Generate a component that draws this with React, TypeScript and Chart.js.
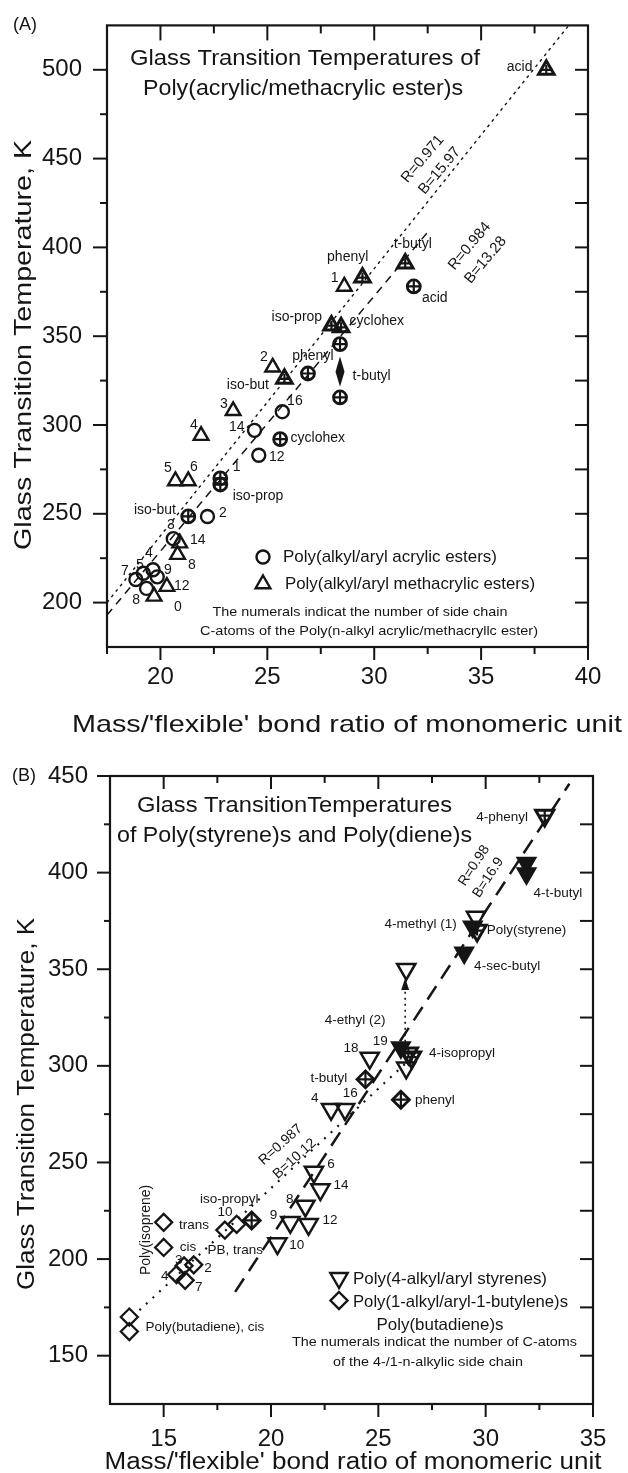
import React, { useEffect, useRef } from 'react';
import { Chart, registerables } from 'chart.js';

Chart.register(...registerables);

const FONT = '"Liberation Sans", Arial, Helvetica, sans-serif';
const INK = '#151515';

// ---------------- Panel A : acrylic / methacrylic esters ----------------
const aXTicks = [20, 25, 30, 35, 40];
const aXMinor = [17.5, 22.5, 27.5, 32.5, 37.5];
const aYTicks = [200, 250, 300, 350, 400, 450, 500];
const aYMinor = [225, 275, 325, 375, 425, 475];

// open circles: n-alkyl acrylates (16,14,12,2,3,4,5,9,7,8)
const aAcrylX = [25.7, 24.4, 24.6, 22.2, 20.6, 19.65, 19.2, 19.85, 18.85, 19.35];
const aAcrylY = [307.5, 297, 283, 248.5, 236, 218.5, 216.5, 214.5, 213, 208];
// crossed circles: acid, phenyl, cyclohex, t-butyl (2), 1, iso-prop, iso-but
const aAcrylBrX = [31.85, 26.9, 25.6, 28.4, 28.4, 22.8, 22.8, 21.3];
const aAcrylBrY = [378, 329, 292, 345.5, 315.5, 270, 266.5, 248.5];
// open triangles: n-alkyl methacrylates (1,2,3,4,5,6,14,8,12,0)
const aMethX = [28.6, 25.25, 23.4, 21.9, 20.7, 21.3, 20.9, 20.8, 20.3, 19.7];
const aMethY = [378, 332.5, 308, 294, 268.5, 268.5, 233.5, 227, 209, 203.5];
// crossed triangles: acid, t-butyl, phenyl, iso-prop, cyclohex, iso-but
const aMethBrX = [38.05, 31.45, 29.45, 28.0, 28.45, 25.8];
const aMethBrY = [500, 391, 383, 356, 355, 326];
// regression lines
const aFit1X = [17.5, 39.1];
const aFit1Y = [200, 525];
const aFit2X = [17.5, 32.6];
const aFit2Y = [193, 410];
// t-butyl shift marker
const aShiftX = [28.4];
const aShiftY = [321.5, 338.5];

const aLabels: [string, number, number][] = [
  ['acid', 36.8, 501.7], ['phenyl', 28.76, 394.6], ['t-butyl', 31.8, 401.8], ['1', 28.15, 382.9],
  ['acid', 32.83, 371.7], ['iso-prop', 26.38, 360.6], ['cyclohex', 30.12, 358.3], ['phenyl', 27.13, 338.8],
  ['2', 24.84, 338.3], ['t-butyl', 29.88, 327.7], ['iso-but', 24.09, 322.6], ['3', 22.97, 311.5],
  ['16', 26.29, 313.7], ['4', 21.57, 299.8], ['14', 23.57, 298.7], ['cyclohex', 27.36, 292.5],
  ['12', 25.44, 281.9], ['5', 20.35, 275.8], ['6', 21.57, 276.4], ['1', 23.57, 276.4],
  ['iso-prop', 24.56, 260.2], ['iso-but', 19.74, 251.8], ['2', 22.92, 250.1], ['3', 20.49, 243.4],
  ['14', 21.75, 235.1], ['4', 19.46, 227.8], ['8', 21.47, 221.1], ['7', 18.34, 217.8],
  ['5', 19.04, 221.1], ['9', 20.35, 218.3], ['12', 21.0, 209.4], ['8', 18.86, 201.6], ['0', 20.82, 197.7],
];
const aRotLabels: [string, number, number, number][] = [
  ['R=0.971', 32.27, 449.8, -50], ['B=15.97', 33.06, 443.1, -50],
  ['R=0.984', 34.46, 400.7, -50], ['B=13.28', 35.21, 392.9, -50],
];

// ---------------- Panel B : styrenes / butylenes / dienes ----------------
const bXTicks = [15, 20, 25, 30, 35];
const bXMinor = [17.5, 22.5, 27.5, 32.5];
const bYTicks = [150, 200, 250, 300, 350, 400, 450];
const bYMinor = [175, 225, 275, 325, 375, 425];

const bStyX = [29.55, 26.3, 26.3, 24.6, 22.8, 23.45, 22.0, 22.3, 21.6, 20.9, 21.75, 20.3];
const bStyY = [377, 350, 299, 304, 277.5, 277.5, 245, 236, 227.5, 219, 218, 208];
const bStyFillX = [31.9, 31.9, 29.0, 29.4, 26.05];
const bStyFillY = [405, 399.5, 358.5, 372, 309.5];
const bStyCrX = [32.75, 26.4, 26.55, 29.6];
const bStyCrY = [429.5, 306.5, 304.5, 370];
const bButX = [15.0, 15.0, 15.95, 16.4, 15.6, 16.0, 17.85, 18.4, 13.4, 13.4];
const bButY = [219, 206, 196.5, 197, 192, 189, 215, 218, 170, 162.5];
const bButCrX = [19.1, 24.4, 26.05];
const bButCrY = [220, 293, 282.5];
const bFit1X = [18.33, 33.9];
const bFit1Y = [183, 446];
const bFit2X = [13.87, 26.97];
const bFit2Y = [173.5, 308.5];
const bArrowX = [26.25];
const bArrowY = [312.5, 345.5];

const bLabels: [string, number, number][] = [
  ['4-phenyl', 30.77, 428.6], ['4-t-butyl', 33.36, 389.1], ['4-methyl (1)', 26.97, 373.5],
  ['Poly(styrene)', 31.9, 369.9], ['4-sec-butyl', 31.0, 351.7], ['4-ethyl (2)', 23.92, 323.6],
  ['18', 23.73, 309.1], ['19', 25.09, 312.7], ['4-isopropyl', 28.9, 306.5], ['t-butyl', 22.7, 293.5],
  ['phenyl', 27.63, 282.1], ['4', 22.04, 283.1], ['16', 23.69, 285.7], ['6', 22.79, 248.8],
  ['14', 23.26, 238.4], ['iso-propyl', 18.05, 231.2], ['8', 20.87, 231.2], ['10', 17.86, 224.4],
  ['9', 20.12, 222.9], ['12', 22.75, 220.3], ['10', 21.2, 207.3], ['trans', 16.41, 217.7],
  ['cis', 16.13, 206.2], ['PB, trans', 18.33, 204.7], ['3', 15.7, 199.5], ['2', 17.07, 195.3],
  ['4', 15.05, 191.2], ['7', 16.64, 185.5], ['Poly(butadiene), cis', 16.92, 164.7],
];
const bRotLabels: [string, number, number, number][] = [
  ['Poly(isoprene)', 14.2, 215.1, -90], ['R=0.987', 20.45, 259.2, -42], ['B=10.12', 21.1, 251.9, -42],
  ['R=0.98', 29.46, 403.6, -57], ['B=16.9', 30.12, 397.4, -57],
];

// ---------------- helpers ----------------
type Opt = { align?: CanvasTextAlign; base?: CanvasTextBaseline; rot?: number; w?: number };
function txt(ctx: CanvasRenderingContext2D, s: string, x: number, y: number, size: number, o: Opt = {}) {
  ctx.save();
  ctx.font = `${size}px ${FONT}`;
  ctx.fillStyle = INK;
  ctx.textAlign = o.align ?? 'center';
  ctx.textBaseline = o.base ?? 'middle';
  ctx.translate(x, y);
  if (o.rot) ctx.rotate((o.rot * Math.PI) / 180);
  if (o.w) {
    const m = ctx.measureText(s).width;
    if (m > 0) ctx.scale(o.w / m, 1);
  }
  ctx.fillText(s, 0, 0);
  ctx.restore();
}

function triPath(ctx: CanvasRenderingContext2D, x: number, y: number, r: number, rotDeg: number) {
  let rad = (rotDeg * Math.PI) / 180;
  ctx.beginPath();
  for (let i = 0; i < 3; i++) {
    const px = x + Math.sin(rad) * r;
    const py = y - Math.cos(rad) * r;
    if (i === 0) ctx.moveTo(px, py);
    else ctx.lineTo(px, py);
    rad += (2 * Math.PI) / 3;
  }
  ctx.closePath();
}

function pts(xs: number[], ys: number[]) {
  return xs.map((x, i) => ({ x, y: ys[i] }));
}

function marks(xs: number[], ys: number[], style: any) {
  return {
    data: pts(xs, ys),
    showLine: false,
    borderColor: INK,
    pointBorderColor: INK,
    backgroundColor: 'rgba(0,0,0,0)',
    pointBackgroundColor: 'rgba(0,0,0,0)',
    ...style,
  };
}

function fitLine(xs: number[], ys: number[], dash: number[], width: number) {
  return {
    data: pts(xs, ys),
    showLine: true,
    pointRadius: 0,
    borderColor: INK,
    borderWidth: width,
    borderDash: dash,
    fill: false,
    tension: 0,
  };
}

interface Panel {
  name: string;
  height: number;
  area: { left: number; top: number; right: number; bottom: number };
  xRange: [number, number];
  yRange: [number, number];
  xTicks: number[];
  xMinor: number[];
  yTicks: number[];
  yMinor: number[];
  tl: { left: [number, number]; bottom: [number, number]; top: [number, number]; right: [number, number] };
  xPad: number;
  yPad: number;
  datasets: any[];
  labels: [string, number, number][];
  labelSize: number;
  rot: [string, number, number, number][];
  rotSize: number;
  draw: (ctx: CanvasRenderingContext2D, xs: any, ys: any) => void;
}

const panelA: Panel = {
  name: 'A',
  height: 745,
  area: { left: 107, top: 17, right: 588, bottom: 647 },
  xRange: [17.5, 40],
  yRange: [175, 525],
  xTicks: aXTicks,
  xMinor: aXMinor,
  yTicks: aYTicks,
  yMinor: aYMinor,
  tl: { left: [14, 7], bottom: [13, 7], top: [15, 8], right: [13, 13] },
  xPad: 3,
  yPad: 11,
  datasets: [
    marks(aAcrylBrX, aAcrylBrY, { pointStyle: 'cross', pointRadius: 6.5, pointBorderWidth: 2.2 }),
    marks(aAcrylBrX, aAcrylBrY, { pointStyle: 'circle', pointRadius: 6.5, pointBorderWidth: 2.8 }),
    marks(aAcrylX, aAcrylY, { pointStyle: 'circle', pointRadius: 6.5, pointBorderWidth: 2.4 }),
    marks(aMethBrX, aMethBrY, { pointStyle: 'cross', pointRadius: 5, pointBorderWidth: 2.2 }),
    marks(aMethBrX, aMethBrY, { pointStyle: 'triangle', pointRadius: 9, pointBorderWidth: 3 }),
    marks(aMethX, aMethY, { pointStyle: 'triangle', pointRadius: 8.5, pointBorderWidth: 2.4 }),
    fitLine(aFit1X, aFit1Y, [3, 4], 1.4),
    fitLine(aFit2X, aFit2Y, [8, 6], 1.5),
  ],
  labels: aLabels,
  labelSize: 14,
  rot: aRotLabels,
  rotSize: 15,
  draw: (ctx, xs, ys) => {
    // t-butyl shift marker
    const x = xs.getPixelForValue(aShiftX[0]);
    const y1 = ys.getPixelForValue(aShiftY[1]);
    const y2 = ys.getPixelForValue(aShiftY[0]);
    ctx.fillStyle = INK;
    ctx.beginPath();
    ctx.moveTo(x, y1);
    ctx.lineTo(x + 4.5, (y1 + y2) / 2);
    ctx.lineTo(x, y2);
    ctx.lineTo(x - 4.5, (y1 + y2) / 2);
    ctx.closePath();
    ctx.fill();

    txt(ctx, '(A)', 25, 25, 18);
    txt(ctx, 'Glass Transition Temperatures of', 305, 65, 22, { base: 'alphabetic', w: 350 });
    txt(ctx, 'Poly(acrylic/methacrylic ester)s', 303, 95, 22, { base: 'alphabetic', w: 320 });
    txt(ctx, "Mass/'flexible' bond ratio of monomeric unit", 347, 732, 24, { base: 'alphabetic', w: 550 });
    txt(ctx, 'Glass Transition Temperature, K', 31, 345, 24, { base: 'alphabetic', rot: -90, w: 410 });

    // legend
    ctx.strokeStyle = INK;
    ctx.lineWidth = 2.4;
    ctx.beginPath();
    ctx.arc(263, 557, 6.5, 0, Math.PI * 2);
    ctx.stroke();
    triPath(ctx, 263, 584, 8.5, 0);
    ctx.stroke();
    txt(ctx, 'Poly(alkyl/aryl acrylic esters)', 283, 557, 17, { align: 'left', w: 214 });
    txt(ctx, 'Poly(alkyl/aryl methacrylic esters)', 285, 584, 17, { align: 'left', w: 250 });
    txt(ctx, 'The numerals indicat the number of side chain', 360, 612, 13.5, { w: 295 });
    txt(ctx, 'C-atoms of the Poly(n-alkyl acrylic/methacryllc ester)', 369, 631, 13.5, { w: 338 });
  },
};

const panelB: Panel = {
  name: 'B',
  height: 728,
  area: { left: 110, top: 31, right: 593, bottom: 659 },
  xRange: [12.5, 35],
  yRange: [125, 450],
  xTicks: bXTicks,
  xMinor: bXMinor,
  yTicks: bYTicks,
  yMinor: bYMinor,
  tl: { left: [13, 6], bottom: [13, 6], top: [13, 7], right: [13, 13] },
  xPad: 8,
  yPad: 9,
  datasets: [
    marks(bStyCrX, bStyCrY, { pointStyle: 'cross', pointRadius: 5, pointBorderWidth: 2.2 }),
    marks(bStyCrX, bStyCrY, { pointStyle: 'triangle', pointRotation: 180, pointRadius: 10.5, pointBorderWidth: 3 }),
    marks(bStyFillX, bStyFillY, {
      pointStyle: 'triangle', pointRotation: 180, pointRadius: 10.5, pointBorderWidth: 2,
      pointBackgroundColor: INK, backgroundColor: INK,
    }),
    marks(bStyX, bStyY, { pointStyle: 'triangle', pointRotation: 180, pointRadius: 10.5, pointBorderWidth: 2.5 }),
    marks(bButCrX, bButCrY, { pointStyle: 'cross', pointRadius: 8.5, pointBorderWidth: 2.2 }),
    marks(bButCrX, bButCrY, { pointStyle: 'rectRot', pointRadius: 8.5, pointBorderWidth: 2.8 }),
    marks(bButX, bButY, { pointStyle: 'rectRot', pointRadius: 8.5, pointBorderWidth: 2.3 }),
    fitLine(bFit1X, bFit1Y, [16, 9], 2.5),
    fitLine(bFit2X, bFit2Y, [2, 7], 2.2),
  ],
  labels: bLabels,
  labelSize: 13.5,
  rot: bRotLabels,
  rotSize: 14,
  draw: (ctx, xs, ys) => {
    // dotted arrow (4-ethyl shift)
    const x = xs.getPixelForValue(bArrowX[0]);
    const yStart = ys.getPixelForValue(bArrowY[0]);
    const yTip = ys.getPixelForValue(bArrowY[1]);
    const yBase = yTip + 12;
    ctx.save();
    ctx.strokeStyle = INK;
    ctx.lineWidth = 1.6;
    ctx.setLineDash([2, 4]);
    ctx.beginPath();
    ctx.moveTo(x, yStart);
    ctx.lineTo(x, yBase);
    ctx.stroke();
    ctx.restore();
    ctx.fillStyle = INK;
    ctx.beginPath();
    ctx.moveTo(x, yTip);
    ctx.lineTo(x + 4, yBase);
    ctx.lineTo(x - 4, yBase);
    ctx.closePath();
    ctx.fill();

    txt(ctx, '(B)', 24, 31, 18);
    txt(ctx, 'Glass TransitionTemperatures', 294.5, 67, 22, { base: 'alphabetic', w: 315 });
    txt(ctx, 'of Poly(styrene)s and Poly(diene)s', 294.5, 97, 22, { base: 'alphabetic', w: 355 });
    txt(ctx, "Mass/'flexible' bond ratio of monomeric unit", 353, 724, 23, { base: 'alphabetic', w: 497 });
    txt(ctx, 'Glass Transition Temperature, K', 34, 359, 23, { base: 'alphabetic', rot: -90, w: 372 });

    // legend
    ctx.strokeStyle = INK;
    ctx.lineWidth = 2.4;
    triPath(ctx, 339, 533, 10, 180);
    ctx.stroke();
    ctx.beginPath();
    ctx.moveTo(339, 547);
    ctx.lineTo(347.5, 555.5);
    ctx.lineTo(339, 564);
    ctx.lineTo(330.5, 555.5);
    ctx.closePath();
    ctx.stroke();
    txt(ctx, 'Poly(4-alkyl/aryl styrenes)', 353, 534, 16.5, { align: 'left', w: 194 });
    txt(ctx, 'Poly(1-alkyl/aryl-1-butylene)s', 353, 557, 16.5, { align: 'left', w: 215 });
    txt(ctx, 'Poly(butadiene)s', 440, 580, 16.5, { w: 127 });
    txt(ctx, 'The numerals indicat the number of C-atoms', 434.5, 597, 13.5, { w: 285 });
    txt(ctx, 'of the 4-/1-n-alkylic side chain', 428, 617, 13.5, { w: 190 });
  },
};

function buildChart(canvas: HTMLCanvasElement, p: Panel) {
  const overlay = {
    id: 'overlay' + p.name,
    afterDraw(chart: any) {
      const ctx: CanvasRenderingContext2D = chart.ctx;
      const xs = chart.scales.x;
      const ys = chart.scales.y;
      const a = chart.chartArea;
      ctx.save();
      ctx.strokeStyle = INK;
      ctx.lineWidth = 2.2;
      ctx.strokeRect(a.left, a.top, a.right - a.left, a.bottom - a.top);
      const seg = (x1: number, y1: number, x2: number, y2: number) => {
        ctx.beginPath();
        ctx.moveTo(x1, y1);
        ctx.lineTo(x2, y2);
        ctx.stroke();
      };
      ctx.lineWidth = 2;
      const xTick = (v: number, k: number) => {
        const px = xs.getPixelForValue(v);
        seg(px, a.bottom, px, a.bottom + p.tl.bottom[k]);
        seg(px, a.top, px, a.top + p.tl.top[k]);
      };
      const yTick = (v: number, k: number) => {
        const py = ys.getPixelForValue(v);
        seg(a.left, py, a.left - p.tl.left[k], py);
        seg(a.right, py, a.right - p.tl.right[k], py);
      };
      p.xTicks.forEach((v) => xTick(v, 0));
      p.xMinor.forEach((v) => xTick(v, 1));
      p.yTicks.forEach((v) => yTick(v, 0));
      p.yMinor.forEach((v) => yTick(v, 1));

      p.labels.forEach(([s, x, y]) => {
        txt(ctx, s, xs.getPixelForValue(x), ys.getPixelForValue(y), p.labelSize);
      });
      p.rot.forEach(([s, x, y, r]) => {
        txt(ctx, s, xs.getPixelForValue(x), ys.getPixelForValue(y), p.rotSize, { rot: r });
      });
      p.draw(ctx, xs, ys);
      ctx.restore();
    },
  };

  const tickFont = { family: FONT, size: 24 };
  return new Chart(canvas, {
    type: 'scatter',
    data: { datasets: p.datasets },
    options: {
      responsive: false,
      animation: false,
      events: [],
      devicePixelRatio: 1,
      layout: { padding: { top: p.area.top, right: 628 - p.area.right, left: 0, bottom: 0 } },
      plugins: { legend: { display: false }, tooltip: { enabled: false }, title: { display: false } },
      scales: {
        x: {
          type: 'linear',
          min: p.xRange[0],
          max: p.xRange[1],
          afterFit: (s: any) => {
            s.height = p.height - p.area.bottom;
          },
          afterBuildTicks: (s: any) => {
            s.ticks = p.xTicks.map((v) => ({ value: v }));
          },
          ticks: { font: tickFont, color: INK, padding: p.xPad, autoSkip: false, maxRotation: 0, callback: (v: any) => String(v) },
          grid: { display: false, drawTicks: true, tickLength: p.tl.bottom[0] },
          border: { display: false },
        },
        y: {
          type: 'linear',
          min: p.yRange[0],
          max: p.yRange[1],
          afterFit: (s: any) => {
            s.width = p.area.left;
          },
          afterBuildTicks: (s: any) => {
            s.ticks = p.yTicks.map((v) => ({ value: v }));
          },
          ticks: { font: tickFont, color: INK, padding: p.yPad, autoSkip: false, callback: (v: any) => String(v) },
          grid: { display: false, drawTicks: true, tickLength: p.tl.left[0] },
          border: { display: false },
        },
      },
    } as any,
    plugins: [overlay],
  });
}

export default function App() {
  const refA = useRef<HTMLCanvasElement>(null);
  const refB = useRef<HTMLCanvasElement>(null);
  useEffect(() => {
    const ca = buildChart(refA.current!, panelA);
    const cb = buildChart(refB.current!, panelB);
    return () => {
      ca.destroy();
      cb.destroy();
    };
  }, []);
  return (
    <div style={{ position: 'absolute', left: 0, top: 0, width: 628, height: 1473, background: '#fff' }}>
      <canvas ref={refA} width={628} height={745} style={{ position: 'absolute', left: 0, top: 0, width: 628, height: 745 }} />
      <canvas ref={refB} width={628} height={728} style={{ position: 'absolute', left: 0, top: 745, width: 628, height: 728 }} />
    </div>
  );
}
